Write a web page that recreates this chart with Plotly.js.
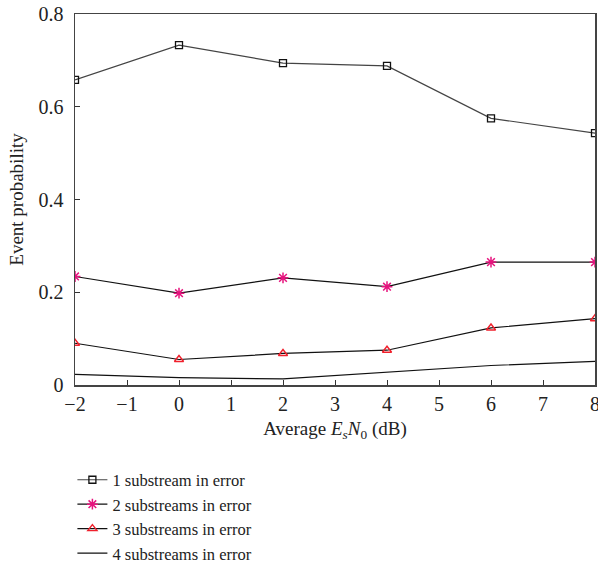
<!DOCTYPE html>
<html>
<head>
<meta charset="utf-8">
<script src="https://cdn.plot.ly/plotly-3.0.1.min.js"></script>
<style>html,body{margin:0;padding:0;background:#fff;}#chart{width:598px;height:564px;}</style>
</head>
<body>
<div id="chart"></div>
<script>
const snr = [-2, 0, 2, 4, 6, 8];
const oneErr = [0.658, 0.733, 0.694, 0.688, 0.575, 0.543];
const twoErr = [0.234, 0.198, 0.231, 0.212, 0.265, 0.265];
const threeErr = [0.090, 0.055, 0.068, 0.075, 0.123, 0.143];
const fourErr = [0.023, 0.016, 0.013, 0.028, 0.042, 0.051];
const names = ["1 substream in error", "2 substreams in error", "3 substreams in error", "4 substreams in error"];
const xTicks = [-2, -1, 0, 1, 2, 3, 4, 5, 6, 7, 8];
const yTicks = [0, 0.2, 0.4, 0.6, 0.8];
const yTickText = ["0", "0.2", "0.4", "0.6", "0.8"];

const F = "Liberation Serif, Times New Roman, serif";
const traces = [
  {x: snr, y: oneErr, name: names[0], mode: "lines+markers",
   line: {color: "#444444", width: 1.2},
   marker: {symbol: "square-open", size: 7, color: "#111111", line: {width: 1.3}}},
  {x: snr, y: twoErr, name: names[1], mode: "lines+markers",
   line: {color: "#111111", width: 1.2},
   marker: {symbol: "asterisk-open", size: 9, color: "#e6147e", line: {width: 1.5, color: "#e6147e"}}},
  {x: snr, y: threeErr, name: names[2], mode: "lines+markers",
   line: {color: "#111111", width: 1.2},
   marker: {symbol: "triangle-up-open", size: 8, color: "#f0202c", line: {width: 1.4}}},
  {x: snr, y: fourErr, name: names[3], mode: "lines",
   line: {color: "#111111", width: 1.2}}
];

const layout = {
  width: 598, height: 564,
  margin: {l: 75, r: 3, t: 14, b: 179, autoexpand: false},
  paper_bgcolor: "#fff", plot_bgcolor: "#fff",
  font: {family: F, size: 19, color: "#222"},
  showlegend: true,
  legend: {x: -0.005, y: -0.209, xanchor: "left", yanchor: "top",
           font: {family: F, size: 16.5, color: "#222"}, tracegroupgap: 0,
           itemwidth: 30, bgcolor: "rgba(0,0,0,0)"},
  xaxis: {range: [-2, 8], tickvals: xTicks, ticks: "inside", ticklen: 5, tickcolor: "#333",
          showline: true, linecolor: "#444", linewidth: 1.5, mirror: true, showgrid: false, zeroline: false,
          ticklabeloverflow: "allow",
          tickfont: {family: F, size: 20, color: "#222"},
          title: {text: "Average <i>E<sub>s</sub>N</i><sub>0</sub> (dB)", font: {family: F, size: 19, color: "#222"}, standoff: 8}},
  yaxis: {range: [0, 0.8], tickvals: yTicks, ticktext: yTickText, ticks: "inside", ticklen: 5, tickcolor: "#333",
          showline: true, linecolor: "#444", linewidth: 1.5, mirror: true, showgrid: false, zeroline: false,
          ticklabelstandoff: 6,
          tickfont: {family: F, size: 20, color: "#222"},
          title: {text: "Event probability", font: {family: F, size: 19, color: "#222"}, standoff: 10}}
};
Plotly.newPlot("chart", traces, layout, {displayModeBar: false, staticPlot: true});
</script>
</body>
</html>
